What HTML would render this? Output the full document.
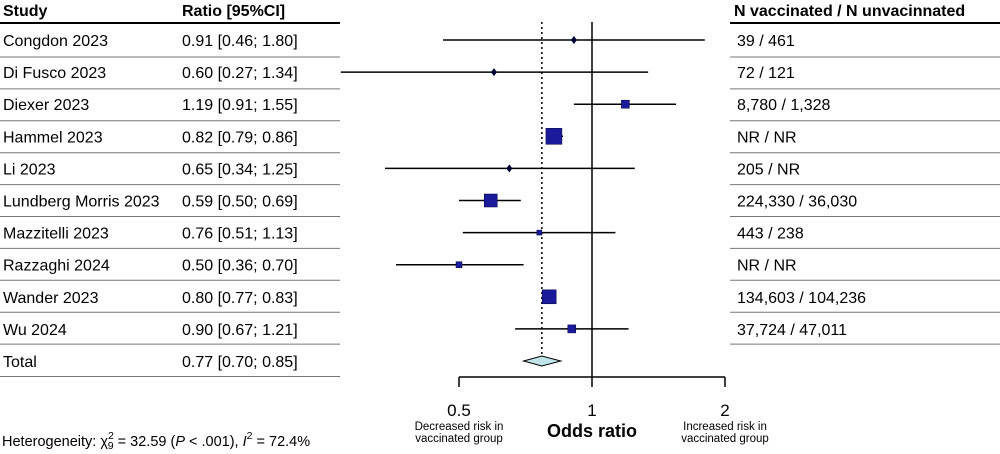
<!DOCTYPE html>
<html><head><meta charset="utf-8"><style>
html,body{margin:0;padding:0;background:#fff;}
svg{display:block;font-family:"Liberation Sans",Arial,sans-serif;}
</style></head><body>
<svg id="chart" width="1000" height="454" viewBox="0 0 1000 454">
<g id="g"></g>
<text x="2" y="446" font-size="14.5" fill="#000">Heterogeneity: χ<tspan font-size="10.5" dy="-7">2</tspan><tspan font-size="10.5" dx="-6" dy="10">9</tspan><tspan dy="-3"> = 32.59 (</tspan><tspan font-style="italic">P</tspan> &lt; .001), <tspan font-style="italic">I</tspan><tspan font-size="10.5" dy="-7">2</tspan><tspan dy="7"> = 72.4%</tspan></text>
</svg>
<script>
const studies=["Congdon 2023","Di Fusco 2023","Diexer 2023","Hammel 2023","Li 2023","Lundberg Morris 2023","Mazzitelli 2023","Razzaghi 2024","Wander 2023","Wu 2024"];
const ors=[0.91,0.60,1.19,0.82,0.65,0.59,0.76,0.50,0.80,0.90];
const lows=[0.46,0.27,0.91,0.79,0.34,0.50,0.51,0.36,0.77,0.67];
const highs=[1.80,1.34,1.55,0.86,1.25,0.69,1.13,0.70,0.83,1.21];
const ciLabels=["0.91 [0.46; 1.80]","0.60 [0.27; 1.34]","1.19 [0.91; 1.55]","0.82 [0.79; 0.86]","0.65 [0.34; 1.25]","0.59 [0.50; 0.69]","0.76 [0.51; 1.13]","0.50 [0.36; 0.70]","0.80 [0.77; 0.83]","0.90 [0.67; 1.21]"];
const weights=[1,1,8,16,1,13,5,6,14,8];
const nLabels=["39 / 461","72 / 121","8,780 / 1,328","NR / NR","205 / NR","224,330 / 36,030","443 / 238","NR / NR","134,603 / 104,236","37,724 / 47,011"];
const totalOR=0.77,totalLow=0.70,totalHigh=0.85;
const totalLabel="0.77 [0.70; 0.85]";
const ticks=[0.5,1,2];
const tickLabels=["0.5","1","2"];

const NS="http://www.w3.org/2000/svg";
const g=document.getElementById('g');
function x(v){return 592+133*Math.log2(v);}
function mk(tag,attrs,parent){const e=document.createElementNS(NS,tag);for(const k in attrs)e.setAttribute(k,attrs[k]);(parent||g).appendChild(e);return e;}
function txt(s,X,Y,attrs){const e=mk('text',Object.assign({x:X,y:Y,'font-size':16,fill:'#000'},attrs||{}));e.textContent=s;return e;}

let t;
t=txt("Study",3,16,{'font-weight':'bold'});

t=txt("Ratio [95%CI]",182,16,{'font-weight':'bold'});

t=txt("N vaccinated / N unvacinnated",734,16,{'font-weight':'bold'});

let l=mk('line',{x1:0,x2:340,y1:23,y2:23,stroke:'#000','stroke-width':2});

l=mk('line',{x1:730,x2:1000,y1:23,y2:23,stroke:'#000','stroke-width':2});


l=mk('line',{x1:x(1),x2:x(1),y1:22,y2:378,stroke:'#000','stroke-width':1.5});

l=mk('line',{x1:x(totalOR),x2:x(totalOR),y1:22,y2:355,stroke:'#000','stroke-width':1.5,'stroke-dasharray':'2,3'});


for(let i=0;i<studies.length;i++){
  const yc=40+i*32.1;
  let e=txt(studies[i],3,yc+6);
  
  e=txt(ciLabels[i],182,yc+6);
  
  e=txt(nLabels[i],737,yc+6);
  
  const sy=57+i*31.9;
  e=mk('line',{x1:0,x2:340,y1:sy,y2:sy,stroke:'#777','stroke-width':1});
  
  e=mk('line',{x1:730,x2:1000,y1:sy,y2:sy,stroke:'#777','stroke-width':1});
  
  e=mk('line',{x1:x(lows[i]),x2:x(highs[i]),y1:yc,y2:yc,stroke:'#000','stroke-width':1.5});
  
  const cx=x(ors[i]),w=weights[i];
  if(w<=1){
    e=mk('polygon',{points:`${cx},${yc-4} ${cx+3},${yc} ${cx},${yc+4} ${cx-3},${yc}`,fill:'#000033'});
  } else {
    e=mk('rect',{x:cx-w/2,y:yc-w/2,width:w,height:w,fill:'#1a1a9a',stroke:'#000044','stroke-width':0.5});
  }
  
}
const ty=361;
t=txt("Total",3,ty+6);

t=txt(totalLabel,182,ty+6);

l=mk('line',{x1:0,x2:340,y1:376.5,y2:376.5,stroke:'#777','stroke-width':1});

l=mk('polygon',{points:`${x(totalLow)},${ty} ${x(totalOR)},${ty-5} ${x(totalHigh)},${ty} ${x(totalOR)},${ty+5}`,fill:'#bfe4ea',stroke:'#000','stroke-width':1});


l=mk('line',{x1:x(ticks[0]),x2:x(ticks[ticks.length-1]),y1:377,y2:377,stroke:'#000','stroke-width':1.5});

for(let i=0;i<ticks.length;i++){
  const e=mk('line',{x1:x(ticks[i]),x2:x(ticks[i]),y1:377,y2:387,stroke:'#000','stroke-width':1.5});
  
  const tl=txt(tickLabels[i],x(ticks[i]),416,{'text-anchor':'middle','font-size':17});
  
}
t=txt("Odds ratio",x(1),437,{'text-anchor':'middle','font-weight':'bold','font-size':18});

t=txt("Decreased risk in",x(0.5),430,{'text-anchor':'middle','font-size':11.5});

t=txt("vaccinated group",x(0.5),442,{'text-anchor':'middle','font-size':11.5});

t=txt("Increased risk in",x(2),430,{'text-anchor':'middle','font-size':11.5});

t=txt("vaccinated group",x(2),442,{'text-anchor':'middle','font-size':11.5});

</script>
</body></html>
